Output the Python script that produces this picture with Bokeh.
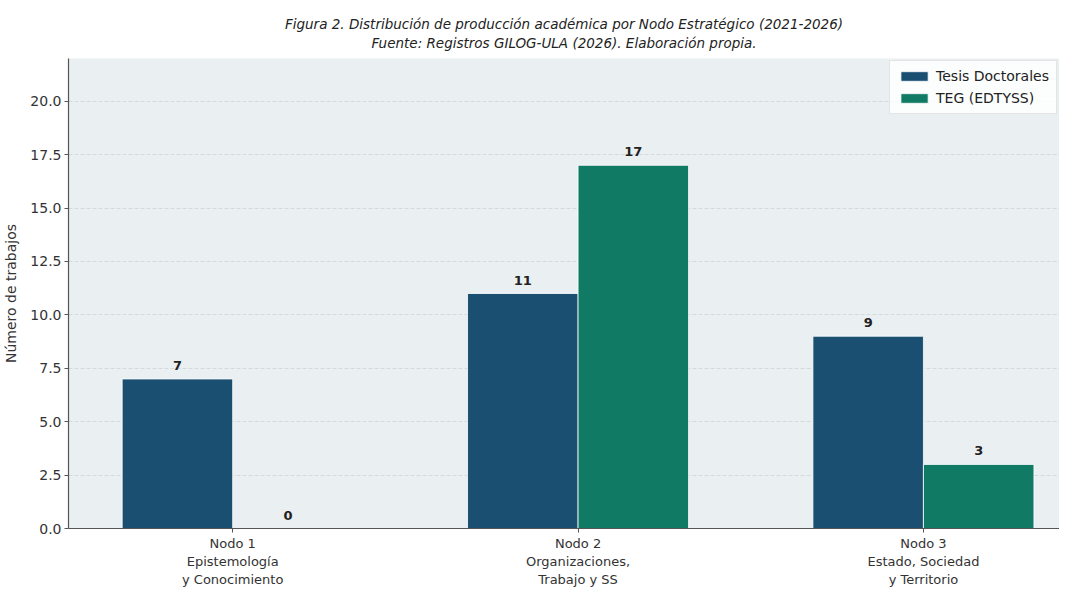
from bokeh.plotting import figure
from bokeh.models import ColumnDataSource, FixedTicker, NumeralTickFormatter, Title, Legend, LegendItem, Range1d
from bokeh.transform import dodge
from bokeh.core.properties import value
from bokeh.embed import file_html
from bokeh.resources import INLINE

categories = ["Nodo 1\nEpistemología\ny Conocimiento",
              "Nodo 2\nOrganizaciones,\nTrabajo y SS",
              "Nodo 3\nEstado, Sociedad\ny Territorio"]
tesis = [7, 11, 9]
teg = [0, 17, 3]
series_names = ["Tesis Doctorales", "TEG (EDTYSS)"]
y_ticks = [0, 2.5, 5, 7.5, 10, 12.5, 15, 17.5, 20]
title_line1 = "Figura 2. Distribución de producción académica por Nodo Estratégico (2021-2026)"
title_line2 = "Fuente: Registros GILOG-ULA (2026). Elaboración propia."

FONT = "DejaVu Sans"
C_TESIS = "#1b4f72"
C_TEG = "#117a65"

xpos = list(range(len(categories)))
src = ColumnDataSource(dict(
    x=xpos, tesis=tesis, teg=teg,
    tesis_lbl=[str(v) for v in tesis], teg_lbl=[str(v) for v in teg],
))

p = figure(width=1059, height=589, output_backend="svg", toolbar_location=None,
           x_range=Range1d(-0.4754, 2.394), y_range=Range1d(0, 22),
           min_border_left=63, min_border_right=0, min_border_top=58, min_border_bottom=53)
p.title = None

p.background_fill_color = "#eaeff2"
p.border_fill_color = "white"
p.outline_line_color = None

r1 = p.vbar(x=dodge("x", -0.16, range=p.x_range), top="tesis", width=0.32, source=src,
            fill_color=C_TESIS, line_color="white", line_width=0.8)
r2 = p.vbar(x=dodge("x", 0.16, range=p.x_range), top="teg", width=0.32, source=src,
            fill_color=C_TEG, line_color="white", line_width=0.8)

for col, lbl, off in (("tesis", "tesis_lbl", -0.16), ("teg", "teg_lbl", 0.16)):
    p.text(x=dodge("x", off, range=p.x_range), y=col, text=lbl, source=src,
           text_align="center", text_baseline="bottom", y_offset=-9,
           text_font=value(FONT), text_font_size="13px", text_font_style="bold",
           text_color="#222222")

legend = Legend(items=[LegendItem(label=series_names[0], renderers=[r1]),
                       LegendItem(label=series_names[1], renderers=[r2])],
                location="top_right")
legend.label_text_font = FONT
legend.label_text_font_size = "14px"
legend.label_text_color = "#222222"
legend.glyph_width = 34
legend.glyph_height = 12
legend.spacing = 6
legend.padding = 7
legend.margin = 2
legend.border_line_color = "#cccccc"
legend.background_fill_color = "white"
legend.background_fill_alpha = 0.85
p.add_layout(legend)

# axes
p.yaxis.ticker = FixedTicker(ticks=y_ticks)
p.yaxis.formatter = NumeralTickFormatter(format="0.0")
p.xaxis.ticker = FixedTicker(ticks=xpos)
p.xaxis.major_label_overrides = {i: c for i, c in zip(xpos, categories)}
for ax in (p.xaxis, p.yaxis):
    ax.axis_line_color = "#555555"
    ax.axis_line_width = 1.2
    ax.major_tick_line_color = "#555555"
    ax.major_tick_out = 4
    ax.major_tick_in = 0
    ax.minor_tick_line_color = None
    ax.major_label_text_font = FONT
    ax.major_label_text_font_size = "14px"
    ax.major_label_text_color = "#333333"
    ax.major_label_standoff = 3
p.xaxis.major_label_text_font_size = "13px"
p.yaxis.axis_label = "Número de trabajos"
p.yaxis.axis_label_text_font = FONT
p.yaxis.axis_label_text_font_size = "14px"
p.yaxis.axis_label_text_font_style = "normal"
p.yaxis.axis_label_text_color = "#333333"
p.yaxis.axis_label_standoff = 8

p.xgrid.grid_line_color = None
p.ygrid.grid_line_color = "#c8cdd2"
p.ygrid.grid_line_dash = "4 2"
p.ygrid.grid_line_width = 0.8
p.ygrid.grid_line_alpha = 0.8

p.add_layout(Title(text=title_line1 + "\n" + title_line2, align="center", text_align="center",
                   text_font=FONT, text_font_size="13.5px", text_line_height=1.2,
                   text_font_style="italic", text_color="#222222", standoff=14), "above")

open("out.html", "w").write(file_html(p, INLINE))
